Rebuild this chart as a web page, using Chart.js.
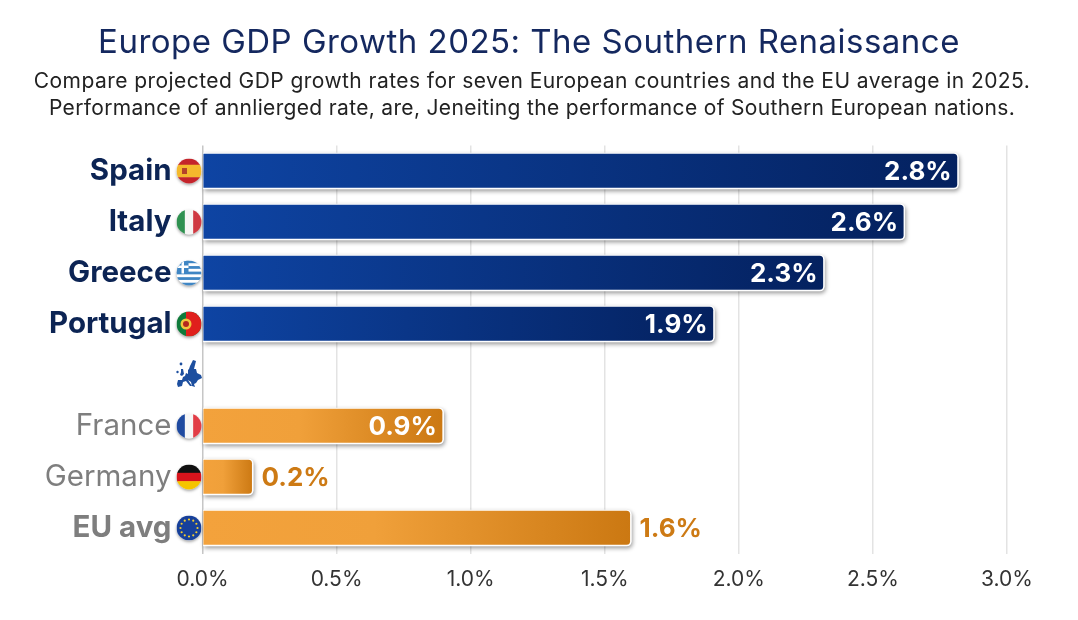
<!DOCTYPE html>
<html>
<head>
<meta charset="utf-8">
<script src="https://cdn.jsdelivr.net/npm/chart.js@4"></script>
<style>
body{margin:0;background:#fff;width:1078px;height:620px;overflow:hidden;position:relative;font-family:Inter,sans-serif}
canvas{position:absolute;left:0;top:0}
.t{position:absolute;left:0;white-space:nowrap;text-align:center}
#title{top:21px;width:1058px;font-size:33px;line-height:40px;color:#14285f;letter-spacing:.48px}
.sub{width:1064px;font-size:21px;line-height:26px;color:#222;letter-spacing:.44px}
</style>
</head>
<body>
<canvas id="chart" width="1078" height="620"></canvas>
<div class="t" id="title">Europe GDP Growth 2025: The Southern Renaissance</div>
<div class="t sub" style="top:68px">Compare projected GDP growth rates for seven European countries and the EU average in 2025.</div>
<div class="t sub" style="top:95px;letter-spacing:.33px">Performance of annlierged rate, are, Jeneiting the performance of Southern European nations.</div>
<script>
var categories=["Spain","Italy","Greece","Portugal","","France","Germany","EU avg"];
// bar lengths, the printed labels round them
var values=[2.82,2.62,2.32,1.91,null,0.9,0.19,1.6];
var valueLabels=["2.8%","2.6%","2.3%","1.9%","","0.9%","0.2%","1.6%"];
var south=["Spain","Italy","Greece","Portugal"];
var outsideLabels=["Germany","EU avg"];
var xTickLabels=["0.0%","0.5%","1.0%","1.5%","2.0%","2.5%","3.0%"];
var flags=["es","it","gr","pt","eu-map","fr","de","eu"];

function stripes(c,x,y,r,cols,vertical){
	var n=cols.length;
	cols.forEach(function(col,i){
		c.fillStyle=col;
		if(vertical) c.fillRect(x-r+i*2*r/n,y-r,2*r/n+.5,2*r);
		else c.fillRect(x-r,y-r+i*2*r/n,2*r,2*r/n+.5);
	});
}
function poly(c,x,y,pts){
	c.beginPath();
	pts.forEach(function(p,i){ i?c.lineTo(x+p[0],y+p[1]):c.moveTo(x+p[0],y+p[1]); });
	c.closePath();c.fill();
}
function drawMap(c,x,y){
	// rough outline of europe, icon only
	c.fillStyle="#1d4f9f";
	poly(c,x,y,[[-12,9],[-11,5],[-7,5],[-6,2],[-4,1],[-3,-2],[-1,-1],[-1,-5],[0,-6],[1,-9],[4,-15],[7,-14],[6,-10],[5,-6],[7,-6],[8,-2],[12,0],[13,3],[9,5],[7,8],[5,9],[6,12],[3,11],[2,7],[-1,5],[3,11],[1,11],[-3,6],[-6,7],[-7,11],[-11,12]]);
	poly(c,x,y,[[-8,-6],[-6,-6],[-5,-1],[-7,1],[-9,0],[-8,-3]]);
	c.beginPath();c.arc(x-11.5,y-3,1.2,0,Math.PI*2);c.fill();
	c.beginPath();c.arc(x-8,y-11,1.4,0,Math.PI*2);c.fill();
}
function drawFlag(c,code,x,y){
	var r=12.5;
	if(code=="eu-map"){ drawMap(c,x,y); return; }
	c.save();
	c.shadowColor="rgba(0,0,0,.35)";c.shadowBlur=3;c.shadowOffsetY=1.5;
	c.fillStyle="#fff";
	c.beginPath();c.arc(x,y,r,0,Math.PI*2);c.fill();
	c.restore();
	c.save();
	c.beginPath();c.arc(x,y,r,0,Math.PI*2);c.clip();
	if(code=="es"){
		stripes(c,x,y,r,["#c4242b","#f4b92d","#f4b92d","#c4242b"],false);
		c.fillStyle="#b5432a";c.fillRect(x-7,y-3,5,6);
	}
	if(code=="it") stripes(c,x,y,r,["#2f9150","#f6f6f4","#cf3a42"],true);
	if(code=="fr") stripes(c,x,y,r,["#1f4aa0","#f6f6f6","#e23d46"],true);
	if(code=="de") stripes(c,x,y,r,["#111111","#d8141c","#f5c400"],false);
	if(code=="gr"){
		stripes(c,x,y,r,["#3f86c4","#fff","#3f86c4","#fff","#3f86c4","#fff","#3f86c4","#fff","#3f86c4"],false);
		c.fillStyle="#3f86c4";c.fillRect(x-r,y-r,12,13);
		c.fillStyle="#fff";c.fillRect(x-r,y-7.5,12,2.5);c.fillRect(x-r+5,y-r,2.5,13);
	}
	if(code=="pt"){
		c.fillStyle="#0f7a3a";c.fillRect(x-r,y-r,2*r,2*r);
		c.fillStyle="#e0201c";c.fillRect(x-3,y-r,r+3,2*r);
		c.fillStyle="#f2c53d";c.beginPath();c.arc(x-3,y,5.5,0,Math.PI*2);c.fill();
		c.fillStyle="#b3261e";c.beginPath();c.arc(x-3,y,3,0,Math.PI*2);c.fill();
	}
	if(code=="eu"){
		c.fillStyle="#17409a";c.fillRect(x-r,y-r,2*r,2*r);
		c.fillStyle="#f2cc30";
		for(var i=0;i<12;i++){
			c.beginPath();c.arc(x+8.5*Math.cos(i*Math.PI/6),y+8.5*Math.sin(i*Math.PI/6),1.1,0,Math.PI*2);c.fill();
		}
	}
	c.restore();
}
function isSouth(i){ return south.indexOf(categories[i])>=0; }

var decor={
	id:"decor",
	beforeDatasetsDraw:function(chart){
		// soft shadow and white edge under each bar
		var c=chart.ctx;
		chart.getDatasetMeta(0).data.forEach(function(b,i){
			if(values[i]==null) return;
			c.save();
			c.shadowColor="rgba(0,0,0,.4)";c.shadowBlur=4;c.shadowOffsetX=1;c.shadowOffsetY=2;
			c.fillStyle="#fff";
			c.beginPath();
			c.roundRect(b.base,b.y-b.height/2,b.x-b.base,b.height,[0,5,5,0]);
			c.fill();
			c.restore();
		});
	},
	afterDatasetsDraw:function(chart){
		var c=chart.ctx,meta=chart.getDatasetMeta(0),yScale=chart.scales.y;
		categories.forEach(function(cat,i){
			drawFlag(c,flags[i],yScale.right-13.5,yScale.getPixelForValue(i));
		});
		c.save();
		c.font="700 26px Inter";
		c.textBaseline="middle";
		meta.data.forEach(function(b,i){
			if(values[i]==null) return;
			if(outsideLabels.indexOf(categories[i])>=0){
				c.textAlign="left";c.fillStyle="#cd7a14";
				c.fillText(valueLabels[i],b.x+8,b.y+1);
			}else{
				c.textAlign="right";c.fillStyle="#fff";
				c.fillText(valueLabels[i],b.x-7,b.y+1);
			}
		});
		c.restore();
	}
};

new Chart(document.getElementById("chart"),{
	type:"bar",
	data:{
		labels:categories,
		datasets:[{
			data:values,
			backgroundColor:function(ctx){
				var chart=ctx.chart,xs=chart.scales.x;
				if(!chart.chartArea||!xs||values[ctx.dataIndex]==null) return "#0f47a6";
				var g=chart.ctx.createLinearGradient(xs.getPixelForValue(0),0,xs.getPixelForValue(values[ctx.dataIndex]),0);
				if(isSouth(ctx.dataIndex)){
					g.addColorStop(0,"#0e44a3");g.addColorStop(1,"#04215f");
				}else{
					g.addColorStop(0,"#f3a23c");g.addColorStop(.4,"#f0a03a");g.addColorStop(1,"#cb7812");
				}
				return g;
			},
			borderColor:"#fff",
			borderWidth:{top:1,right:1.5,bottom:1.5,left:0},
			borderRadius:{topRight:5,bottomRight:5},
			borderSkipped:false,
			barPercentage:.72,
			categoryPercentage:1
		}]
	},
	options:{
		indexAxis:"y",
		responsive:false,
		animation:false,
		layout:{padding:{top:145.5,right:71,left:0,bottom:0}},
		plugins:{legend:{display:false},tooltip:{enabled:false}},
		scales:{
			x:{
				min:0,max:3,
				afterFit:function(s){ s.height=66.5; },
				border:{display:false},
				grid:{
					drawTicks:false,
					lineWidth:1.5,
					color:function(ctx){ return ctx.tick&&ctx.tick.value===0?"#c6c6c6":"#e3e3e3"; }
				},
				ticks:{
					stepSize:.5,
					padding:14,
					color:"#333",
					font:{family:"Inter",size:21},
					callback:function(v,i){ return xTickLabels[i]; }
				}
			},
			y:{
				afterFit:function(s){ s.width=202.5; },
				border:{display:false},
				grid:{display:false,drawTicks:false},
				ticks:{
					padding:31,
					autoSkip:false,
					color:function(ctx){ return isSouth(ctx.index)?"#0c2454":"#7e7e7e"; },
					font:function(ctx){
						var bold=isSouth(ctx.index)||categories[ctx.index]=="EU avg";
						return {family:"Inter",size:29.5,weight:bold?"700":"400"};
					}
				}
			}
		}
	},
	plugins:[decor]
});
</script>
</body>
</html>
